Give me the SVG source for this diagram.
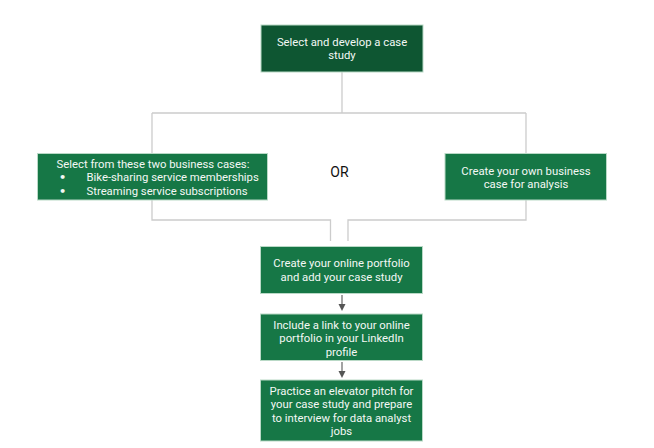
<svg xmlns="http://www.w3.org/2000/svg" width="654" height="448" viewBox="0 0 654 448">
  <defs>
    <style>
      .box { fill: #167746; stroke: #b9d9c6; stroke-width: 1; }
      .dark { fill: #0e5632; }
      .t { font-family: Roboto, "Liberation Sans", sans-serif; font-size: 11.3px; fill: #f4f8f5; text-anchor: middle; }
      .tl { text-anchor: start; }
      .bul { font-family: "DejaVu Sans", sans-serif; font-weight: bold; }
      .conn { fill: none; stroke: #cccccc; stroke-width: 1.3; }
    </style>
  </defs>
  <rect width="654" height="448" fill="#ffffff"/>
  <g id="connectors">
    <path class="conn" d="M342,72 V113 M152,113 H526 M152,113 V153 M526,113 V153"/>
    <path class="conn" d="M152,200 V220 H330.5 V241"/>
    <path class="conn" d="M526,200 V220 H348 V241"/>
    <line x1="342" y1="295" x2="342" y2="305" stroke="#666666" stroke-width="1.2"/>
    <path d="M338.5,304 L345.5,304 L342,311 Z" fill="#555555"/>
    <line x1="342" y1="362" x2="342" y2="372" stroke="#666666" stroke-width="1.2"/>
    <path d="M338.5,371 L345.5,371 L342,378 Z" fill="#555555"/>
  </g>
  <g id="node-top">
    <rect class="box dark" x="261" y="25" width="162" height="47"/>
    <text class="t" x="342" y="46">Select and develop a case</text>
    <text class="t" x="342" y="59">study</text>
  </g>
  <g id="node-left">
    <rect class="box" x="37.5" y="153.5" width="230" height="46.5"/>
    <text class="t" x="153" y="167.5">Select from these two business cases:</text>
    <text class="t bul" x="62.5" y="181">•</text>
    <text class="t tl" x="86.5" y="181">Bike-sharing service memberships</text>
    <text class="t bul" x="62.5" y="194.5">•</text>
    <text class="t tl" x="86.5" y="194.5">Streaming service subscriptions</text>
  </g>
  <g id="node-or">
    <text x="339.5" y="177.3" font-family="Roboto, 'Liberation Sans', sans-serif" font-size="14" fill="#111111" text-anchor="middle">OR</text>
  </g>
  <g id="node-right">
    <rect class="box" x="445" y="153.5" width="161.5" height="46.5"/>
    <text class="t" x="526" y="174.5">Create your own business</text>
    <text class="t" x="526" y="187.5">case for analysis</text>
  </g>
  <g id="node-portfolio">
    <rect class="box" x="260.5" y="246.5" width="162" height="47"/>
    <text class="t" x="341.5" y="267">Create your online portfolio</text>
    <text class="t" x="341.5" y="281">and add your case study</text>
  </g>
  <g id="node-linkedin">
    <rect class="box" x="260.5" y="314" width="162" height="46.5"/>
    <text class="t" x="341.5" y="329">Include a link to your online</text>
    <text class="t" x="341.5" y="342.3">portfolio in your LinkedIn</text>
    <text class="t" x="341.5" y="355.7">profile</text>
  </g>
  <g id="node-pitch">
    <rect class="box" x="260.5" y="380" width="162" height="61"/>
    <text class="t" x="341.5" y="394.5">Practice an elevator pitch for</text>
    <text class="t" x="341.5" y="408">your case study and prepare</text>
    <text class="t" x="341.5" y="421.5">to interview for data analyst</text>
    <text class="t" x="341.5" y="435">jobs</text>
  </g>
</svg>
